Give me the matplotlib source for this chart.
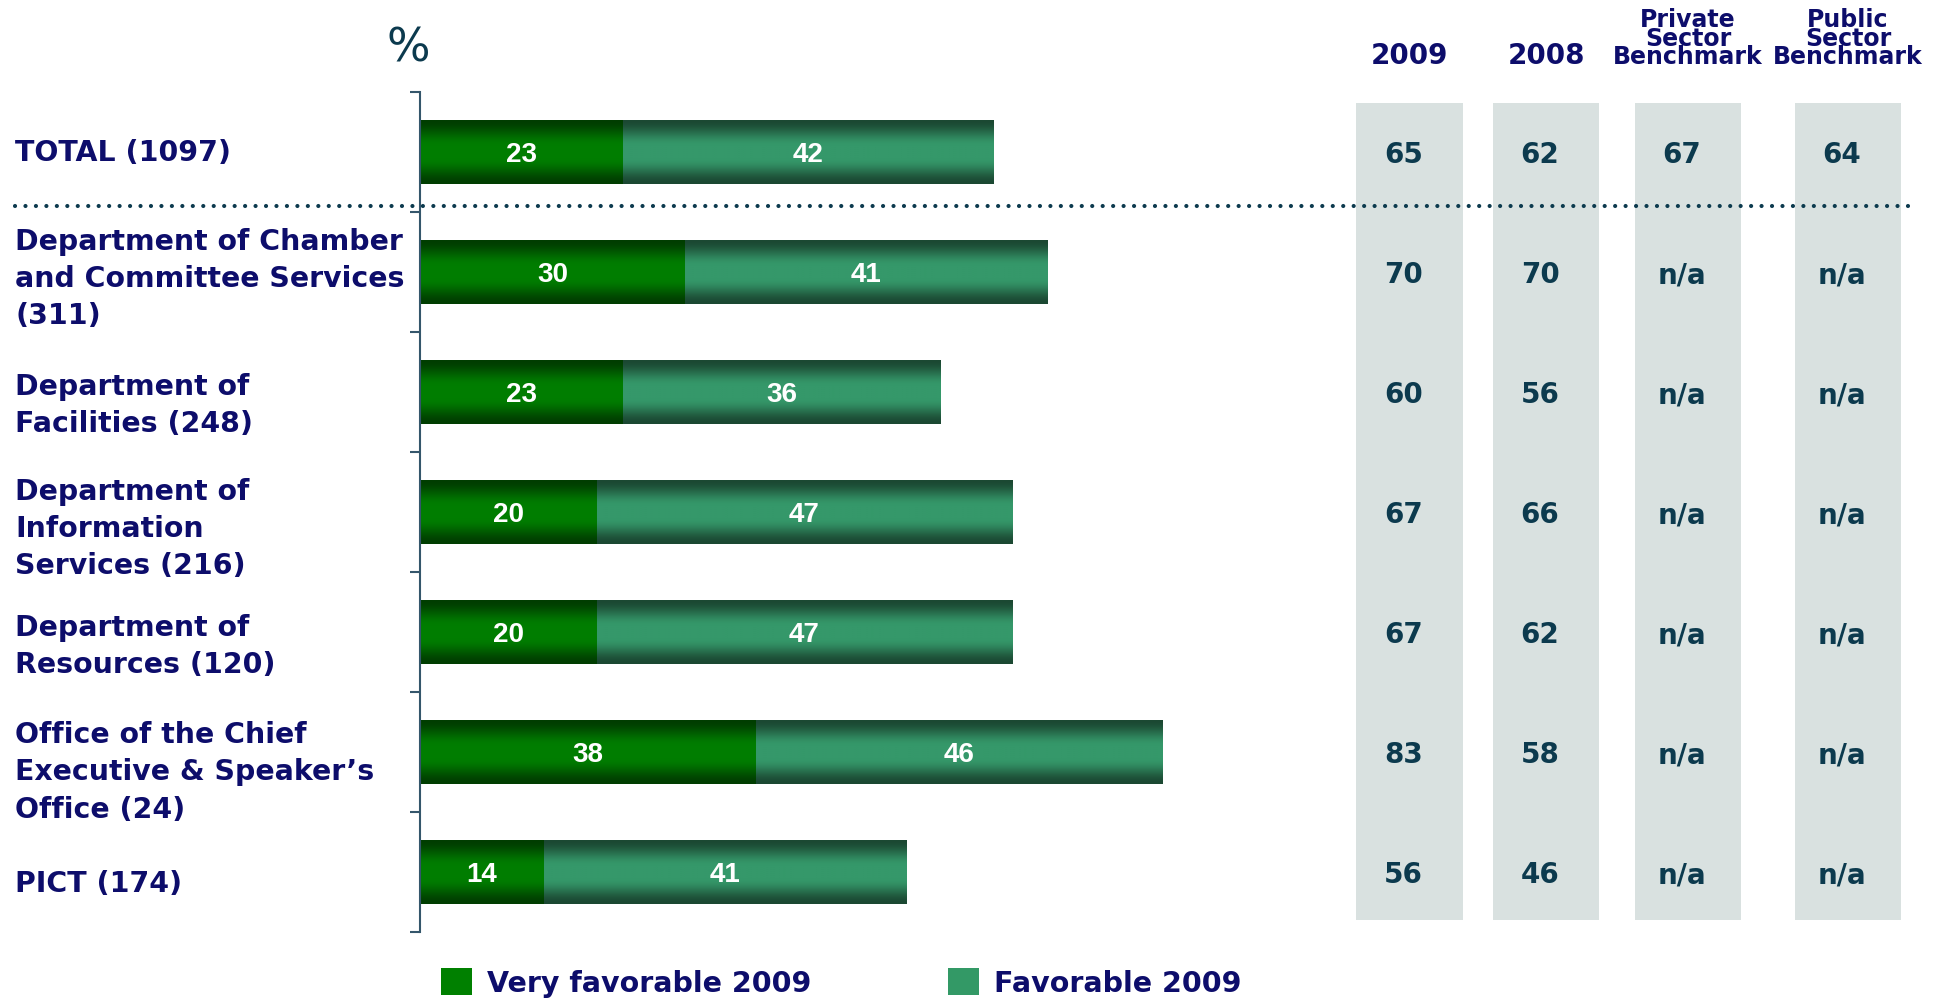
import numpy as np
import matplotlib
matplotlib.use("Agg")
import matplotlib.pyplot as plt
from matplotlib import transforms
from matplotlib.lines import Line2D
from matplotlib.colors import to_rgb

categories = [
    "TOTAL (1097)",
    "Department of Chamber\nand Committee Services\n(311)",
    "Department of\nFacilities (248)",
    "Department of\nInformation\nServices (216)",
    "Department of\nResources (120)",
    "Office of the Chief\nExecutive & Speaker\u2019s\nOffice (24)",
    "PICT (174)",
]
very_favorable = [23, 30, 23, 20, 20, 38, 14]
favorable = [42, 41, 36, 47, 47, 46, 41]

col_headers = ["2009", "2008", "Private\nSector\nBenchmark", "Public\nSector\nBenchmark"]
total_2009 = ["65", "70", "60", "67", "67", "83", "56"]
total_2008 = ["62", "70", "56", "66", "62", "58", "46"]
private_bench = ["67", "n/a", "n/a", "n/a", "n/a", "n/a", "n/a"]
public_bench = ["64", "n/a", "n/a", "n/a", "n/a", "n/a", "n/a"]
table_cols = [total_2009, total_2008, private_bench, public_bench]

NAVY = "#0d0d6b"
TEAL = "#0c3a4e"
GREEN_DARK = "#008000"
GREEN_LIGHT = "#339966"

W, H = 1939, 1001
fig = plt.figure(figsize=(W / 100, H / 100), dpi=100)

ax = fig.add_axes([420 / W, 69 / H, 883 / W, 840 / H])
n = len(categories)
y = np.arange(n)
bh = 0.53

c_very = ax.barh(y, very_favorable, height=bh, color=GREEN_DARK, zorder=1)
c_fav = ax.barh(y, favorable, left=very_favorable, height=bh, color=GREEN_LIGHT, zorder=1)


def shade(edge, centre):
    # vertical gradient: dark at top and bottom, bright band in the middle
    t = np.linspace(0, 1, 96)
    f = np.clip((0.5 - np.abs(t - 0.5)) / 0.4, 0, 1)
    f = f * f * (3 - 2 * f)
    e, c = np.array(to_rgb(edge)), np.array(to_rgb(centre))
    return (e + (c - e) * f[:, None])[:, None, :]


for cont, (edge, centre) in [(c_very, ("#003d00", "#007d00")),
                             (c_fav, ("#1b4832", "#35986a"))]:
    grad = shade(edge, centre)
    for p in cont.patches:
        x0, y0, w, h = p.get_x(), p.get_y(), p.get_width(), p.get_height()
        im = ax.imshow(grad, extent=[x0, x0 + w, y0 + h, y0], aspect="auto",
                       interpolation="bilinear", zorder=1.5)
        im.set_clip_path(p)

for cont, vals in [(c_very, very_favorable), (c_fav, favorable)]:
    texts = ax.bar_label(cont, labels=[str(v) for v in vals], label_type="center",
                         color="white", fontsize=20, fontweight="bold",
                         family="Liberation Sans", zorder=3)
    for t in texts:
        t.set_verticalalignment("center_baseline")

ax.set_xlim(0, 100)
ax.set_ylim(n - 0.5, -0.5)
for s in ["top", "right", "bottom"]:
    ax.spines[s].set_visible(False)
ax.spines["left"].set_color("#34566b")
ax.spines["left"].set_linewidth(1.5)
ax.set_xticks([])
ax.set_yticks(np.arange(-0.5, n, 1))
ax.set_yticklabels([])
ax.tick_params(axis="y", length=7, width=1.5, color="#34566b", direction="out")

ax.text(-1.3, -0.86, "%", ha="center", va="center", fontsize=33, color=TEAL)

# category labels on the left edge of the figure
lab_tr = transforms.blended_transform_factory(fig.transFigure, ax.transData)
lab_shift = [0.01, 0.06, 0.11, 0.14, 0.12, 0.17, 0.10]
for i, lab in enumerate(categories):
    ax.text(15 / W, i + lab_shift[i], lab, transform=lab_tr, ha="left", va="center",
            fontsize=20.4, fontweight="bold", color=NAVY, linespacing=1.42,
            family="DejaVu Sans", clip_on=False)

# summary table on the right
ax2 = fig.add_axes([1340 / W, 69 / H, 599 / W, 840 / H])
ax2.set_xlim(0, 1)
ax2.set_ylim(n - 0.5, -0.5)
ax2.axis("off")
col_x = [0.116, 0.344, 0.581, 0.848]
ax2.bar(col_x, 6.81, bottom=-0.41, width=0.178, color="#d9e1e0", zorder=1)
for j, (cx, col) in enumerate(zip(col_x, table_cols)):
    for i, v in enumerate(col):
        ax2.text(cx - 0.01, i, v, ha="center", va="center_baseline", fontsize=20,
                 fontweight="bold", color=TEAL, zorder=3)
    hdr = col_headers[j]
    multi = "\n" in hdr
    ax2.text(cx, -0.73, hdr, ha="center", va="baseline",
             fontsize=17 if multi else 20, fontweight="bold", color=NAVY,
             linespacing=0.72, clip_on=False)

# dotted separator under the TOTAL row
sep_tr = transforms.blended_transform_factory(fig.transFigure, ax.transData)
fig.add_artist(Line2D([15 / W, 1913 / W], [0.45, 0.45], transform=sep_tr,
                      color=TEAL, lw=3, linestyle=(0, (0.01, 2.5)),
                      dash_capstyle="round", zorder=5))

fig.legend([c_very, c_fav], ["Very favorable 2009", "Favorable 2009"],
           loc="center left", bbox_to_anchor=(441 / W, 0.018), ncol=2,
           frameon=False, handlelength=1.08, handleheight=1.08,
           handletextpad=0.54, columnspacing=4.8, borderpad=0, borderaxespad=0,
           prop={"family": "DejaVu Sans", "weight": "bold", "size": 20.5},
           labelcolor=NAVY)

fig.savefig("out.png", dpi=100)
